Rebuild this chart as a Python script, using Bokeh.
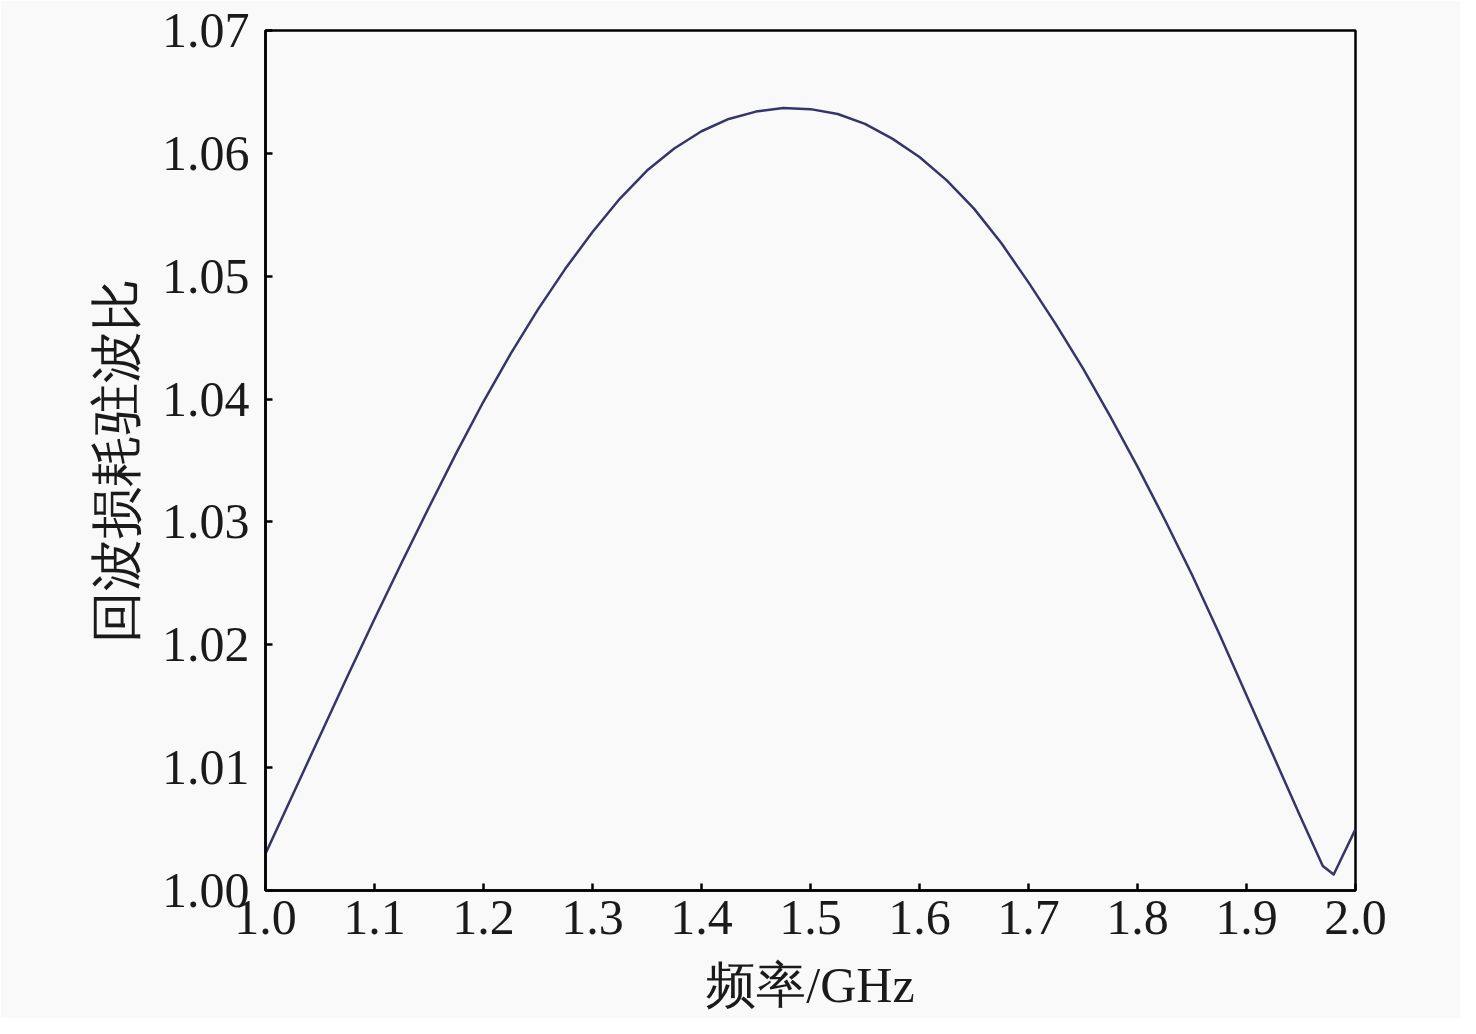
from bokeh.plotting import figure
from bokeh.models import FixedTicker, PrintfTickFormatter, Range1d
from bokeh.embed import file_html
from bokeh.resources import INLINE

freq = [1.000, 1.025, 1.050, 1.075, 1.100, 1.125, 1.150, 1.175, 1.200, 1.225,
        1.250, 1.275, 1.300, 1.325, 1.350, 1.375, 1.400, 1.425, 1.450, 1.475,
        1.500, 1.525, 1.550, 1.575, 1.600, 1.625, 1.650, 1.675, 1.700, 1.725,
        1.750, 1.775, 1.800, 1.825, 1.850, 1.875, 1.900, 1.925, 1.950, 1.970,
        1.980, 2.000]
vswr = [1.0030, 1.0078, 1.0126, 1.0174, 1.0221, 1.0267, 1.0312, 1.0356, 1.0398, 1.0437,
        1.0473, 1.0506, 1.0536, 1.0563, 1.0586, 1.0604, 1.0618, 1.0628, 1.0634, 1.0637,
        1.0636, 1.0632, 1.0624, 1.0612, 1.0597, 1.0578, 1.0555, 1.0527, 1.0495, 1.0461,
        1.0425, 1.0386, 1.0345, 1.0302, 1.0257, 1.0209, 1.0159, 1.0109, 1.0059, 1.0020,
        1.0013, 1.0050]

x_ticks = [1.0, 1.1, 1.2, 1.3, 1.4, 1.5, 1.6, 1.7, 1.8, 1.9, 2.0]
y_ticks = [1.00, 1.01, 1.02, 1.03, 1.04, 1.05, 1.06, 1.07]

BG = "#f9f9f9"
SERIF = "Liberation Serif"

p = figure(width=1460, height=1018, output_backend="svg", toolbar_location=None,
           x_range=Range1d(1.0, 2.0), y_range=Range1d(1.0, 1.07),
           min_border_left=265, min_border_top=30, min_border_right=105, min_border_bottom=128)
p.frame_width = 1090
p.frame_height = 860
p.background_fill_color = BG
p.border_fill_color = BG
p.outline_line_color = "black"
p.outline_line_width = 2.5
p.outline_line_alpha = 1
p.grid.visible = False

p.line(freq, vswr, line_color="#35356a", line_width=2.5, line_join="round")

for ax in (p.xaxis[0], p.yaxis[0]):
    ax.axis_line_color = "black"
    ax.axis_line_width = 2.5
    ax.major_tick_line_color = "black"
    ax.major_tick_line_width = 2.5
    ax.major_tick_in = 7
    ax.major_tick_out = 0
    ax.minor_tick_line_color = None
    ax.major_label_text_font = SERIF
    ax.major_label_text_font_size = "50px"
    ax.major_label_text_color = "#1a1a1a"

p.xaxis.ticker = FixedTicker(ticks=x_ticks)
p.xaxis.formatter = PrintfTickFormatter(format="%.1f")
p.xaxis.major_label_standoff = 10
p.xaxis.axis_label = "频率/GHz"
p.xaxis.axis_label_text_font = SERIF
p.xaxis.axis_label_text_font_style = "normal"
p.xaxis.axis_label_text_font_size = "50px"
p.xaxis.axis_label_text_color = "#1a1a1a"
p.xaxis.axis_label_standoff = 20

p.yaxis.ticker = FixedTicker(ticks=y_ticks)
p.yaxis.formatter = PrintfTickFormatter(format="%.2f")
p.yaxis.major_label_standoff = 16
p.yaxis.axis_label = "回波损耗驻波比"
p.yaxis.axis_label_text_font = SERIF
p.yaxis.axis_label_text_font_style = "normal"
p.yaxis.axis_label_text_font_size = "52px"
p.yaxis.axis_label_text_color = "#1a1a1a"
p.yaxis.axis_label_standoff = 14

open("out.html", "w").write(file_html(p, INLINE))
